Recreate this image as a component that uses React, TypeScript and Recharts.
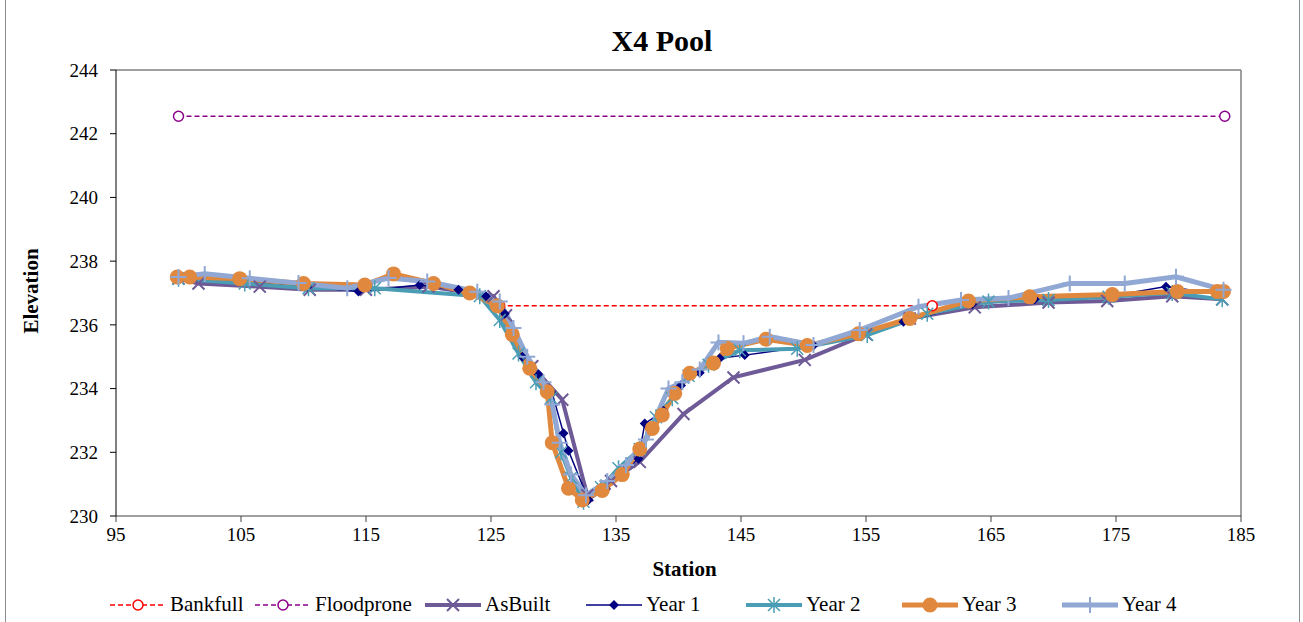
import { LineChart, Line, XAxis, YAxis, ReferenceLine } from 'recharts'

const FONT = "'Liberation Serif', 'Times New Roman', serif"

const stationTicks = [95, 105, 115, 125, 135, 145, 155, 165, 175, 185]
const elevationTicks = [230, 232, 234, 236, 238, 240, 242, 244]

// [station, elevation]
const bankfull: [number, number][] = [
  [125.7, 236.6],
  [160.3, 236.6],
]

const floodprone: [number, number][] = [
  [100, 242.55],
  [183.7, 242.55],
]

const asBuilt: [number, number][] = [
  [100, 237.45], [101.6, 237.3], [106.5, 237.2], [110.5, 237.1], [115, 237.1],
  [120, 237.2], [125.2, 236.9], [126.2, 236.3], [128.3, 234.7], [130.7, 233.65],
  [132.7, 230.65], [134.6, 231.1], [136.9, 231.7], [140.4, 233.2], [144.4, 234.35],
  [150.1, 234.9], [155, 235.7], [158.5, 236.2], [163.7, 236.55], [169.6, 236.7],
  [174.3, 236.75], [179.5, 236.9], [183.5, 236.8],
]

const year1: [number, number][] = [
  [100, 237.5], [105, 237.35], [110.3, 237.2], [114.4, 237.05], [119.3, 237.25],
  [122.4, 237.1], [124.6, 236.9], [126.1, 236.35], [127.5, 235.0], [128.8, 234.45],
  [129.9, 233.85], [130.8, 232.6], [131.2, 232.05], [132.8, 230.5], [134.2, 230.85],
  [135.6, 231.4], [136.8, 231.8], [137.3, 232.9], [138.8, 233.3], [140.2, 234.1],
  [141.7, 234.5], [143.3, 234.95], [145.3, 235.05], [150.8, 235.35], [154.6, 235.7],
  [158, 236.1], [163.5, 236.65], [168.5, 236.8], [174.5, 236.9], [179, 237.2],
  [183.5, 236.95],
]

const year2: [number, number][] = [
  [100, 237.45], [105.3, 237.3], [110.4, 237.15], [115.7, 237.15], [124.1, 236.9],
  [125.7, 236.15], [127.2, 235.1], [128.6, 234.2], [129.8, 233.7], [130.6, 232.0],
  [131.4, 231.2], [132.4, 230.45], [133.8, 230.9], [135.2, 231.5], [136.9, 232.1],
  [138.2, 233.1], [139.5, 233.7], [140.8, 234.4], [142.4, 234.75], [144.9, 235.2],
  [149.5, 235.25], [155.1, 235.68], [159.9, 236.35], [164.8, 236.73], [169.6, 236.78],
  [174.4, 236.88], [179.5, 237.0], [183.5, 236.8],
]

const year3: [number, number][] = [
  [99.9, 237.5], [100.9, 237.5], [104.9, 237.45], [110, 237.3], [114.9, 237.25],
  [117.2, 237.6], [120.4, 237.3], [123.3, 237.0], [125.5, 236.6], [126.7, 235.7],
  [128.1, 234.64], [129.5, 233.9], [129.9, 232.3], [131.2, 230.87], [132.3, 230.5],
  [133.9, 230.8], [135.5, 231.3], [136.9, 232.1], [137.9, 232.75], [138.7, 233.17],
  [139.7, 233.85], [140.9, 234.48], [142.8, 234.8], [143.9, 235.26], [147.0, 235.55],
  [150.3, 235.35], [154.4, 235.72], [158.5, 236.2], [163.2, 236.75], [168.1, 236.88],
  [174.7, 236.95], [179.9, 237.05], [183.1, 237.05], [183.6, 237.05],
]

const year4: [number, number][] = [
  [100, 237.5], [102.1, 237.6], [105.7, 237.46], [109.6, 237.31], [113.5, 237.15],
  [116.8, 237.47], [119.9, 237.36], [123.9, 237.04], [125.7, 236.73], [126.8, 235.9],
  [127.9, 235.0], [129.2, 234.2], [129.9, 233.5], [130.5, 232.3], [131.4, 231.3],
  [132.6, 230.65], [134.3, 231.1], [135.8, 231.6], [137.4, 232.4], [139.2, 234.0],
  [140.3, 234.2], [141.7, 234.6], [143.2, 235.45], [145.2, 235.42], [147.3, 235.63],
  [150.8, 235.37], [154.5, 235.84], [159.2, 236.57], [162.6, 236.78], [166.4, 236.84],
  [171.3, 237.3], [175.7, 237.3], [179.8, 237.51], [183.6, 237.1],
]

type MarkKind = 'ring' | 'x' | 'diamond' | 'asterisk' | 'dot' | 'plus'

const SERIES: {
  name: string
  points: [number, number][]
  color: string
  width: number
  dash?: string
  mark: MarkKind
  legendX: number
}[] = [
  { name: 'Bankfull', points: bankfull, color: '#FF0000', width: 1.5, dash: '5 3', mark: 'ring', legendX: 108 },
  { name: 'Floodprone', points: floodprone, color: '#8B008B', width: 1.5, dash: '5 3', mark: 'ring', legendX: 253 },
  { name: 'AsBuilt', points: asBuilt, color: '#6E5A96', width: 4, mark: 'x', legendX: 423 },
  { name: 'Year 1', points: year1, color: '#000080', width: 1.5, mark: 'diamond', legendX: 584 },
  { name: 'Year 2', points: year2, color: '#4A9DB4', width: 4, mark: 'asterisk', legendX: 744 },
  { name: 'Year 3', points: year3, color: '#E0883E', width: 5, mark: 'dot', legendX: 900 },
  { name: 'Year 4', points: year4, color: '#90A8D3', width: 5, mark: 'plus', legendX: 1060 },
]

function Mark({ kind, color, cx, cy }: { kind: MarkKind; color: string; cx: number; cy: number }) {
  if (cx == null || cy == null) return null
  switch (kind) {
    case 'ring':
      return <circle cx={cx} cy={cy} r={5} fill='#fff' stroke={color} strokeWidth={1.5} />
    case 'x':
      return (
        <path
          d={`M${cx - 6},${cy - 6}L${cx + 6},${cy + 6}M${cx - 6},${cy + 6}L${cx + 6},${cy - 6}`}
          stroke={color}
          strokeWidth={2}
        />
      )
    case 'diamond':
      return <path d={`M${cx},${cy - 5}L${cx + 5},${cy}L${cx},${cy + 5}L${cx - 5},${cy}Z`} fill={color} />
    case 'asterisk':
      return (
        <path
          d={`M${cx - 6},${cy - 6}L${cx + 6},${cy + 6}M${cx - 6},${cy + 6}L${cx + 6},${cy - 6}M${cx},${cy - 8}L${cx},${cy + 8}`}
          stroke={color}
          strokeWidth={1.5}
        />
      )
    case 'dot':
      return <circle cx={cx} cy={cy} r={7.5} fill={color} />
    case 'plus':
      return (
        <path
          d={`M${cx},${cy - 8}L${cx},${cy + 8}M${cx - 8},${cy}L${cx + 8},${cy}`}
          stroke={color}
          strokeWidth={2}
        />
      )
  }
}

function LegendIcon({ s }: { s: (typeof SERIES)[number] }) {
  return (
    <svg width={60} height={20} style={{ display: 'block' }}>
      <line x1={2} y1={10} x2={58} y2={10} stroke={s.color} strokeWidth={s.width} strokeDasharray={s.dash} />
      <Mark kind={s.mark} color={s.color} cx={30} cy={10} />
    </svg>
  )
}

export default function App() {
  return (
    <div style={{ position: 'absolute', left: 0, top: 0, width: 1303, height: 622, background: '#fff', overflow: 'hidden', fontFamily: FONT }}>
      <div style={{ position: 'absolute', left: 5, top: -2, width: 1293, height: 640, border: '1px solid #8c8c8c' }} />
      <LineChart width={1303} height={622} margin={{ top: 70, right: 62, bottom: 66, left: 56 }}>
        <XAxis
          type='number'
          dataKey='station'
          domain={[95, 185]}
          ticks={stationTicks}
          allowDataOverflow
          height={40}
          tickSize={6}
          tickMargin={6}
          stroke='#404040'
          tick={{ fill: '#000', fontSize: 19, fontFamily: FONT }}
        />
        <YAxis
          type='number'
          domain={[230, 244]}
          ticks={elevationTicks}
          allowDataOverflow
          width={60}
          tickSize={6}
          tickMargin={12}
          stroke='#000'
          tick={{ fill: '#000', fontSize: 19, fontFamily: FONT }}
        />
        <ReferenceLine y={244} stroke='#808080' strokeWidth={1.5} />
        <ReferenceLine x={185} stroke='#808080' strokeWidth={1.5} />
        {SERIES.map((s) => (
          <Line
            key={s.name}
            name={s.name}
            data={s.points.map(([station, elev]) => ({ station, elev }))}
            dataKey='elev'
            type='linear'
            stroke={s.color}
            strokeWidth={s.width}
            strokeDasharray={s.dash}
            isAnimationActive={false}
            activeDot={false}
            dot={(p: any) => <Mark key={`${s.name}-${p.index}`} kind={s.mark} color={s.color} cx={p.cx} cy={p.cy} />}
          />
        ))}
      </LineChart>

      <div style={{ position: 'absolute', left: 0, width: 1324, top: 24, textAlign: 'center', fontWeight: 'bold', fontSize: 30, fontFamily: FONT }}>
        X4 Pool
      </div>
      <div style={{ position: 'absolute', left: 0, width: 1369, top: 557, textAlign: 'center', fontWeight: 'bold', fontSize: 21, fontFamily: FONT }}>
        Station
      </div>
      <div
        style={{
          position: 'absolute',
          left: 31,
          top: 291,
          transform: 'translate(-50%, -50%) rotate(-90deg)',
          fontWeight: 'bold',
          fontSize: 21,
          fontFamily: FONT,
          whiteSpace: 'nowrap',
        }}>
        Elevation
      </div>

      {SERIES.map((s) => (
        <div
          key={s.name}
          style={{ position: 'absolute', left: s.legendX, top: 592, display: 'flex', alignItems: 'center', fontSize: 21, fontFamily: FONT }}>
          <LegendIcon s={s} />
          <span style={{ marginLeft: 2, fontFamily: FONT }}>{s.name}</span>
        </div>
      ))}
    </div>
  )
}
